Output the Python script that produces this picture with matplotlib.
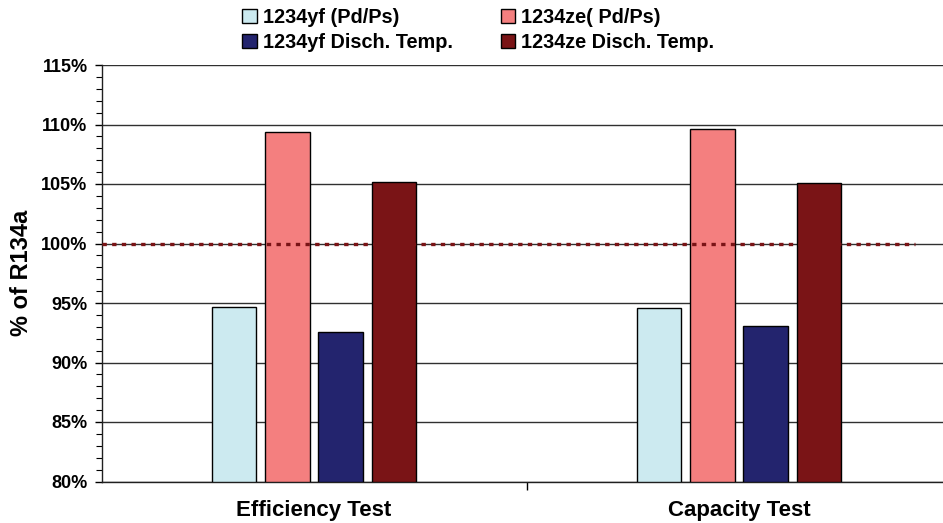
import matplotlib.pyplot as plt
from matplotlib.patches import Rectangle
from matplotlib.ticker import MultipleLocator, FuncFormatter

# data
categories = ['Efficiency Test', 'Capacity Test']
series_names = ['1234yf (Pd/Ps)', '1234ze( Pd/Ps)', '1234yf Disch. Temp.', '1234ze Disch. Temp.']
yf_pdps = [94.7, 94.6]
ze_pdps = [109.35, 109.6]
yf_disch = [92.6, 93.1]
ze_disch = [105.15, 105.05]
ref_level = 100
y_ticks = [80, 85, 90, 95, 100, 105, 110, 115]

colours = ['#CCEAF0', '#F47F7F', '#23246E', '#7A1416']
plt.rcParams['font.family'] = ['Liberation Sans', 'DejaVu Sans']
plt.rcParams['font.weight'] = 'bold'

W, H = 943, 523
fig = plt.figure(figsize=(W / 100, H / 100), dpi=100)
fig.set_facecolor('white')
# plot area runs past the right edge of the picture, as in the reference
ax = fig.add_axes([101.5 / W, (H - 481.5) / H, 850 / W, 416.5 / H])

bar_w = 0.104
step = 0.125
all_series = [yf_pdps, ze_pdps, yf_disch, ze_disch]
for i, vals in enumerate(all_series):
    xs = [c + (i - 1.5) * step for c in range(len(categories))]
    heights = [v - y_ticks[0] for v in vals]
    ax.bar(xs, heights, bottom=y_ticks[0], width=bar_w, color=colours[i],
           edgecolor='black', linewidth=1, zorder=3, label=series_names[i])

# reference line at 100%
ax.axhline(ref_level, xmin=0, xmax=0.957, color='#7A1416', linewidth=2.4,
           linestyle=(0, (1.3, 1.6)), zorder=4)

ax.set_xlim(-0.5, len(categories) - 0.5)
ax.set_ylim(y_ticks[0], y_ticks[-1])
ax.set_yticks(y_ticks)
ax.yaxis.set_minor_locator(MultipleLocator(1))
ax.yaxis.set_major_formatter(FuncFormatter(lambda v, p: f'{v:.0f}%'))
ax.tick_params(axis='y', which='major', direction='out', length=5, width=1,
               labelsize=13, pad=5)
ax.tick_params(axis='y', which='minor', direction='out', length=4, width=0.8)
for t in ax.get_yticklabels():
    t.set_fontweight('bold')

ax.set_xticks(range(len(categories)), labels=categories)
ax.set_xticks([0.5], minor=True)
ax.tick_params(axis='x', which='major', length=0, labelsize=16, pad=13)
ax.tick_params(axis='x', which='minor', length=6, width=1)
for t in ax.get_xticklabels():
    t.set_fontweight('bold')

ax.set_ylabel('% of R134a', fontsize=17, fontweight='bold', labelpad=6)

ax.grid(True, axis='y', which='major', color='#303030', linewidth=1, zorder=1)
ax.spines['top'].set_visible(False)
ax.spines['right'].set_visible(False)
ax.spines['left'].set_color('#202020')
ax.spines['bottom'].set_color('#202020')
ax.spines['left'].set_linewidth(1)
ax.spines['bottom'].set_linewidth(1)

# legend: columns hold yf / ze
leg_handles = [Rectangle((0, 0), 1, 1, facecolor=colours[i], edgecolor='black', linewidth=1)
               for i in [0, 2, 1, 3]]
leg_labels = [series_names[i] for i in [0, 2, 1, 3]]
fig.legend(leg_handles, leg_labels, ncol=2, loc='upper left',
           bbox_to_anchor=(242 / W, 1 - 8 / H), frameon=False, fontsize=14.3,
           handlelength=0.75, handleheight=0.75, handletextpad=0.3,
           columnspacing=2.4, labelspacing=0.3, borderpad=0, borderaxespad=0)

fig.savefig('out.png', dpi=100, facecolor='white')
